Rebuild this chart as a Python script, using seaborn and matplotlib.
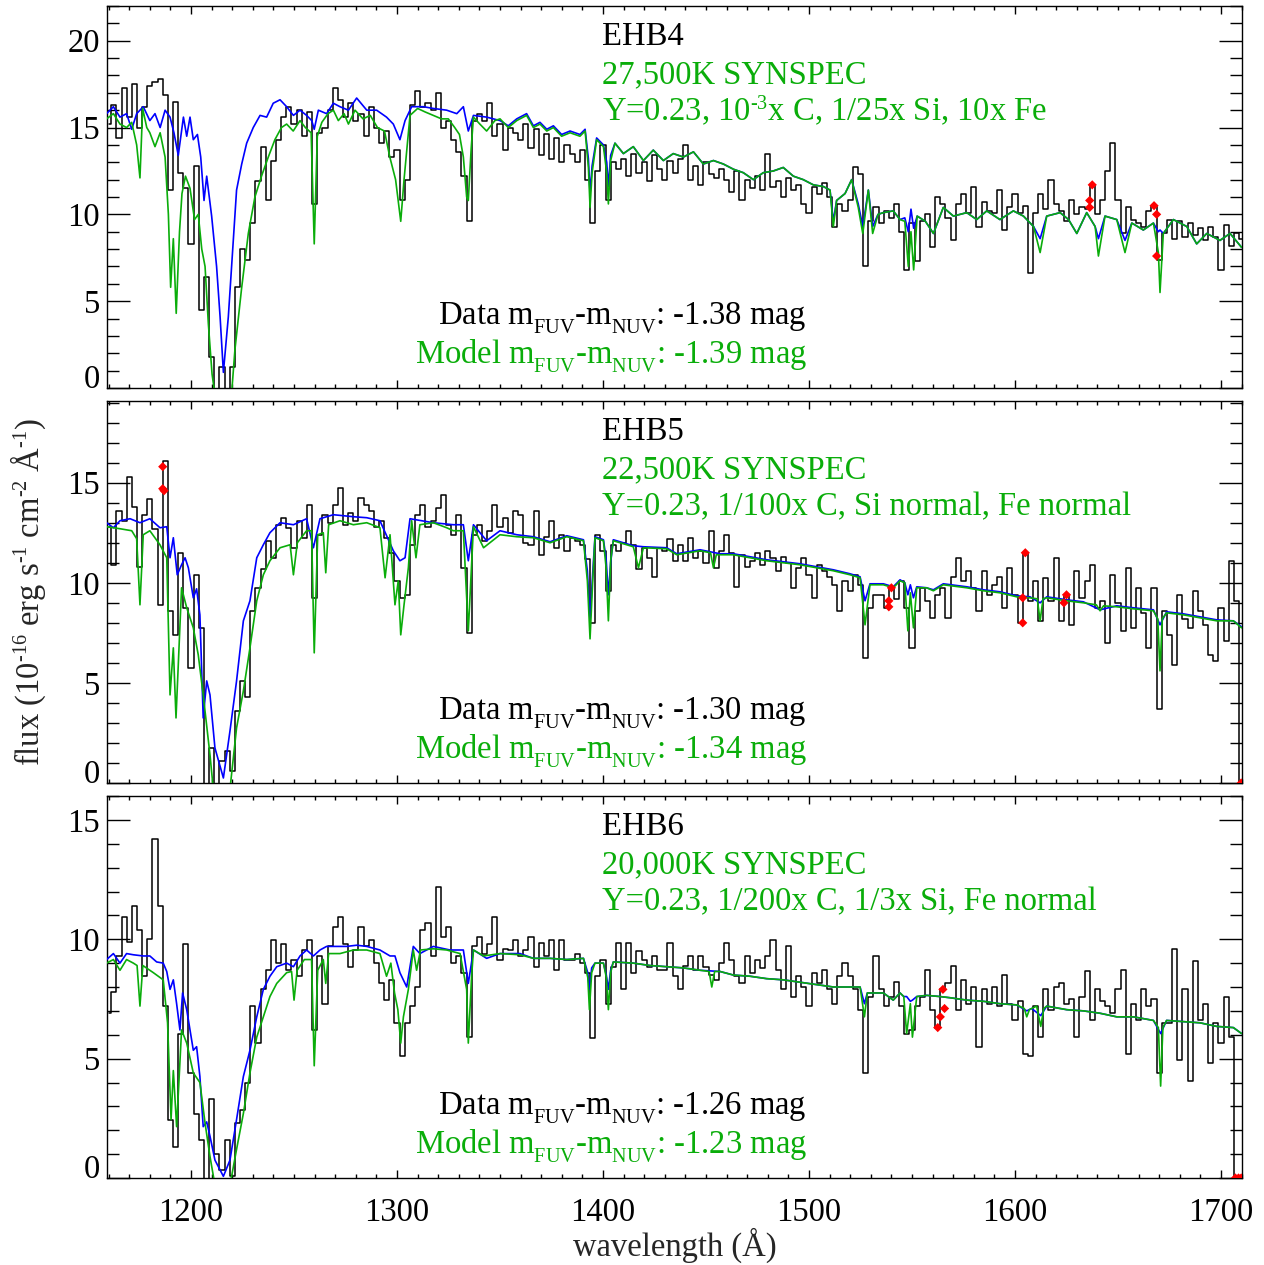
import numpy as np
import pandas as pd
import matplotlib
matplotlib.use("Agg")
import matplotlib.pyplot as plt
from matplotlib.ticker import MultipleLocator
import seaborn as sns

try:  # IDL-like smaller, lower sub/superscripts
    import matplotlib._mathtext as _mt
    _mt.SHRINK_FACTOR = 0.62
    _mt.FontConstantsBase.sub1 = 0.6
except Exception:
    pass

# ------------------------------------------------------------------
# Data
# ------------------------------------------------------------------
data_wave_start = 1160.0   # Angstrom, first data bin
data_wave_step = 2.5       # Angstrom, bin width

# observed fluxes, one row = 10 bins (25 A)
flux_ehb4 = [
    15.2, 16.3, 14.4, 17.3, 15.6, 17.5, 15.0, 16.2, 17.4, 17.6,   # 1160
    17.8, 16.9, 11.4, 16.5, 12.4, 11.5, 8.3, 12.8, 4.5, 6.4,      # 1185
    1.8, -0.3, 1.2, -0.3, 1.2, 5.8, 8.0, 7.4, 9.5, 11.9,          # 1210
    13.9, 10.8, 13.1, 14.3, 15.6, 16.2, 15.2, 16.0, 14.5, 15.9,   # 1235
    10.6, 14.7, 15.0, 16.0, 17.3, 16.6, 15.6, 16.4, 15.4, 15.8,   # 1260
    14.5, 16.2, 15.0, 14.1, 14.8, 13.3, 13.7, 10.8, 12.0, 16.3,   # 1285
    17.1, 16.2, 16.4, 16.0, 17.0, 15.0, 15.4, 14.3, 13.6, 12.2,   # 1310
    9.6, 15.4, 15.8, 15.4, 16.4, 14.5, 15.2, 13.7, 15.0, 14.7,    # 1335
    14.3, 15.2, 13.8, 14.9, 13.4, 14.6, 13.2, 14.4, 13.0, 14.0,   # 1360
    13.5, 13.0, 13.7, 12.0, 9.5, 12.5, 14.0, 10.8, 13.0, 12.6,    # 1385
    13.2, 12.2, 13.5, 12.4, 13.0, 11.9, 13.4, 12.6, 12.0, 13.1,   # 1410
    12.4, 13.2, 14.0, 12.0, 12.8, 11.7, 13.0, 12.3, 12.1, 12.6,   # 1435
    12.0, 11.3, 12.5, 10.8, 12.0, 11.5, 12.2, 11.4, 13.5, 11.6,   # 1460
    11.9, 11.0, 12.1, 11.4, 11.7, 10.6, 10.1, 11.6, 11.2, 11.8,   # 1485
    11.0, 9.3, 10.6, 10.2, 10.8, 12.7, 12.3, 7.0, 9.6, 10.4,      # 1510
    9.5, 10.2, 9.8, 10.6, 9.0, 6.8, 9.5, 7.3, 9.6, 10.0,          # 1535
    8.1, 11.0, 10.6, 9.8, 8.5, 10.6, 11.2, 10.1, 11.6, 9.3,       # 1560
    10.7, 10.2, 10.1, 11.4, 9.1, 10.4, 11.2, 10.1, 10.5, 6.6,     # 1585
    10.1, 11.2, 10.3, 12.0, 10.6, 10.2, 9.6, 10.8, 10.0, 10.4,    # 1610
    10.3, 11.7, 10.0, 10.8, 12.5, 14.1, 10.8, 8.9, 10.4, 9.7,     # 1635
    9.5, 9.3, 10.2, 10.5, 7.4, 8.9, 9.7, 8.6, 9.6, 8.7,           # 1660
    9.5, 8.8, 9.2, 8.5, 9.3, 8.7, 6.8, 9.4, 8.2, 8.9,             # 1685
    8.6,                                                          # 1710
]

flux_ehb5 = [
    12.8, 10.9, 13.6, 13.1, 15.3, 13.8, 10.8, 13.4, 14.2, 12.7,   # 1160
    8.9, 16.1, 8.6, 7.4, 11.5, 8.75, 5.75, 10.4, 7.75, -0.3,      # 1185
    1.75, -0.3, 1.1, 1.6, 0.6, 3.6, 5.1, 4.3, 8.6, 9.75,          # 1210
    10.7, 12.1, 11.25, 12.9, 13.25, 12.75, 11.75, 13.1, 12.25, 13.9,  # 1235
    9.25, 12.4, 13.4, 13.0, 13.9, 14.75, 12.9, 13.5, 13.1, 14.25,     # 1260
    13.9, 13.6, 12.8, 13.1, 12.25, 11.5, 10.1, 9.25, 9.4, 11.9,       # 1285
    13.4, 13.9, 12.8, 13.1, 13.75, 14.4, 12.9, 12.4, 13.4, 10.75,     # 1310
    7.5, 12.4, 12.9, 12.1, 12.6, 13.9, 12.8, 13.25, 12.5, 13.6,       # 1335
    13.4, 12.0, 11.9, 13.6, 11.4, 12.3, 13.1, 11.75, 12.4, 11.6,      # 1360
    12.25, 12.1, 11.9, 11.2, 8.0, 12.4, 11.6, 9.6, 11.9, 11.6,        # 1385
    12.0, 12.6, 11.9, 10.7, 11.75, 11.25, 10.3, 11.75, 11.6, 12.2,    # 1410
    11.1, 11.9, 11.1, 12.25, 11.25, 11.6, 11.0, 12.6, 10.75, 11.6,    # 1435
    12.4, 11.5, 9.8, 11.4, 10.8, 11.1, 11.5, 10.9, 11.6, 11.25,       # 1460
    10.6, 11.3, 11.0, 9.75, 10.75, 11.25, 10.4, 9.25, 10.9, 10.6,     # 1485
    10.3, 9.9, 8.6, 10.1, 9.6, 10.4, 9.9, 6.25, 8.75, 9.4,            # 1510
    9.4, 8.75, 9.75, 9.2, 10.1, 8.75, 6.75, 8.6, 9.75, 9.1,           # 1535
    8.25, 9.4, 9.75, 8.25, 10.3, 11.25, 10.1, 10.6, 9.75, 8.6,        # 1560
    10.6, 9.4, 9.9, 10.3, 8.75, 10.75, 9.4, 8.0, 11.5, 9.1,           # 1585
    10.1, 8.1, 10.25, 9.1, 11.25, 8.1, 9.4, 7.9, 10.6, 9.25,          # 1610
    10.1, 10.9, 8.75, 9.1, 7.0, 10.4, 9.0, 7.6, 10.75, 7.75,          # 1635
    9.75, 8.5, 6.75, 9.75, 3.7, 8.6, 7.4, 5.9, 9.4, 8.2,              # 1660
    7.75, 9.6, 8.6, 7.9, 6.4, 6.1, 8.75, 7.1, 11.1, 9.1,              # 1685
    -0.5,                                                             # 1710
]

flux_ehb6 = [
    6.9, 7.8, 9.3, 10.95, 9.9, 11.4, 10.4, 8.45, 10.0, 14.2,      # 1160
    11.4, 7.2, 2.45, 1.3, 6.05, 9.8, 4.4, 2.7, 1.6, -0.2,         # 1185
    3.3, 1.0, 0.35, 1.6, 0.1, 2.3, 2.85, 4.0, 7.2, 5.65,          # 1210
    7.9, 8.7, 9.95, 9.0, 9.8, 8.7, 9.15, 8.45, 9.55, 9.95,        # 1235
    6.2, 9.3, 7.3, 9.7, 10.5, 10.95, 9.8, 8.85, 9.55, 10.5,       # 1260
    9.7, 9.95, 9.0, 8.15, 7.45, 8.3, 6.5, 5.1, 6.5, 7.2,          # 1285
    8.0, 10.4, 10.7, 9.3, 12.2, 10.1, 10.5, 9.0, 9.3, 8.6,        # 1310
    5.9, 9.7, 10.1, 9.4, 9.8, 10.95, 9.15, 9.6, 9.55, 9.95,       # 1335
    9.3, 9.55, 10.1, 8.85, 9.85, 9.3, 9.95, 8.7, 9.95, 9.15,      # 1360
    9.15, 9.4, 9.0, 8.6, 5.85, 8.45, 9.15, 7.3, 8.85, 9.85,       # 1385
    7.9, 9.85, 8.6, 9.5, 9.15, 8.85, 9.3, 8.7, 8.7, 9.85,         # 1410
    8.45, 7.9, 8.9, 9.3, 8.7, 9.3, 8.85, 8.5, 8.3, 9.0,           # 1435
    9.85, 9.15, 8.45, 8.15, 9.3, 8.6, 9.15, 8.8, 9.3, 9.95,       # 1460
    8.7, 7.9, 9.7, 7.6, 8.45, 8.0, 7.2, 8.6, 8.15, 8.7,           # 1485
    7.9, 7.3, 8.45, 9.0, 8.45, 7.9, 7.05, 4.4, 7.6, 9.3,          # 1510
    7.9, 7.2, 7.6, 8.2, 7.2, 6.05, 6.2, 7.2, 7.6, 8.7,            # 1535
    7.05, 6.3, 7.9, 8.15, 8.9, 7.05, 8.3, 7.3, 8.0, 5.5,          # 1560
    7.9, 7.3, 8.0, 7.2, 8.5, 7.3, 6.6, 7.4, 5.2, 5.1,             # 1585
    7.2, 5.9, 7.9, 7.05, 8.0, 8.15, 7.3, 7.5, 5.9, 7.6,           # 1610
    8.65, 6.6, 7.9, 7.4, 7.2, 6.9, 7.9, 8.7, 5.2, 7.3,            # 1635
    6.6, 7.9, 7.2, 7.5, 4.4, 6.5, 6.5, 9.6, 4.95, 7.9,            # 1660
    4.05, 9.1, 6.6, 7.3, 4.8, 6.5, 5.65, 7.6, 5.9, -0.3,          # 1685
    -0.3,                                                         # 1710
]

# flagged (bad) pixels, red diamonds: (wavelength, flux)
red_ehb4 = [(1636.25, 10.4), (1636.25, 10.8), (1637.5, 11.7),
            (1667.5, 10.5), (1668.75, 10.0), (1668.75, 7.6)]
red_ehb5 = [(1186.25, 15.8), (1186.25, 14.7), (1186.9, 14.6),
            (1540.0, 9.75), (1538.75, 9.1), (1538.75, 8.8),
            (1603.75, 8.0), (1603.75, 9.25), (1605.0, 11.5),
            (1625.0, 9.4), (1623.75, 9.0), (1709.8, 0.0)]
red_ehb6 = [(1562.5, 6.3), (1563.75, 6.75), (1565.0, 7.9), (1565.8, 7.1),
            (1707.0, 0.0), (1708.5, 0.0), (1709.8, 0.0)]

# model spectra: (wavelength, flux)
blue_ehb4 = [
    (1159.0, 15.8), (1162.3, 16.2), (1165.5, 15.6), (1168.7, 15.8), (1171.2, 14.9), (1173.6, 15.8),
    (1176.8, 16.2), (1180.0, 15.4), (1182.5, 15.8), (1185.0, 15.0), (1187.4, 16.0), (1189.8, 15.6),
    (1191.7, 14.7), (1193.8, 13.4), (1196.3, 15.6), (1197.9, 14.5), (1199.5, 15.6), (1201.1, 14.3),
    (1203.1, 14.6), (1204.7, 13.3), (1206.3, 10.8), (1207.6, 12.2), (1210.0, 9.9), (1212.4, 7.0),
    (1214.1, 4.1), (1215.7, 0.9), (1218.1, 4.1), (1220.5, 8.5), (1222.1, 11.4), (1224.6, 12.9),
    (1227.0, 14.1), (1230.2, 15.0), (1233.5, 15.7), (1236.7, 15.6), (1239.9, 16.4), (1243.2, 16.6),
    (1246.4, 16.2), (1249.7, 15.7), (1252.9, 16.0), (1256.1, 15.7), (1258.6, 15.4), (1259.8, 14.9),
    (1261.8, 16.0), (1265.8, 15.8), (1269.1, 16.4), (1272.3, 16.2), (1276.4, 16.0), (1280.4, 16.7),
    (1285.3, 16.0), (1290.1, 16.0), (1294.9, 15.6), (1298.2, 15.2), (1301.4, 14.3), (1303.9, 15.4),
    (1307.1, 16.2), (1312.8, 16.2), (1317.6, 16.1), (1324.1, 16.0), (1329.0, 15.8), (1332.2, 16.2),
    (1334.6, 14.8), (1337.1, 15.7), (1343.5, 15.6), (1350.0, 15.4), (1354.0, 15.1), (1358.1, 15.5),
    (1362.9, 15.8), (1366.2, 15.1), (1369.4, 15.3), (1372.7, 14.9), (1375.9, 15.1), (1379.9, 14.6),
    (1384.0, 14.8), (1388.8, 14.6), (1391.3, 14.9), (1392.9, 13.2), (1393.7, 11.2), (1394.7, 12.8),
    (1396.9, 14.4), (1400.2, 14.0), (1401.8, 13.0), (1402.6, 11.6), (1403.7, 13.4), (1405.8, 14.1),
    (1409.9, 13.5), (1414.7, 13.9), (1419.6, 13.1), (1424.4, 13.7), (1429.3, 13.1), (1434.1, 13.5),
    (1439.0, 13.3), (1443.9, 13.6), (1448.7, 12.9), (1453.6, 13.1), (1458.4, 12.9), (1463.3, 12.6),
    (1468.1, 12.4), (1473.0, 12.0), (1477.8, 12.4), (1482.7, 12.5), (1487.5, 12.7), (1492.4, 12.2),
    (1497.2, 12.0), (1502.1, 11.7), (1507.0, 11.6), (1510.2, 11.4), (1511.8, 9.6), (1513.4, 10.8),
    (1517.5, 11.2), (1520.7, 12.0), (1523.9, 10.6), (1526.1, 9.3), (1528.8, 11.4), (1530.9, 9.3),
    (1533.5, 10.0), (1536.1, 10.1), (1540.9, 10.2), (1544.2, 9.7), (1546.5, 9.8), (1548.2, 9.0),
    (1549.5, 10.3), (1550.8, 9.2), (1552.5, 9.9), (1556.5, 9.6), (1560.4, 8.9), (1565.2, 10.4),
    (1570.1, 9.9), (1576.6, 10.1), (1581.4, 9.7), (1586.3, 10.2), (1592.7, 9.7), (1599.2, 10.2),
    (1604.1, 9.9), (1609.0, 9.3), (1612.2, 8.6), (1615.4, 9.9), (1621.9, 10.1), (1626.0, 9.7),
    (1630.0, 8.9), (1634.8, 10.1), (1638.9, 9.3), (1640.5, 8.6), (1643.7, 9.9), (1649.4, 9.7),
    (1653.4, 8.5), (1656.7, 9.5), (1662.3, 9.1), (1667.2, 9.5), (1669.6, 9.0), (1670.4, 9.1),
    (1672.0, 8.9), (1676.9, 9.7), (1683.4, 9.3), (1688.2, 8.3), (1693.1, 8.9), (1699.5, 8.5),
    (1704.4, 8.9), (1710.0, 8.1),
]
green_ehb4 = [
    (1159.0, 15.5), (1162.3, 15.8), (1165.5, 15.2), (1168.7, 15.0), (1171.2, 15.3), (1173.6, 14.0),
    (1175.2, 12.1), (1176.5, 16.1), (1178.5, 15.0), (1180.0, 14.7), (1182.5, 13.9), (1185.0, 14.7),
    (1187.4, 13.3), (1189.0, 10.0), (1190.1, 5.8), (1191.4, 8.6), (1192.8, 4.3), (1194.4, 9.0),
    (1195.6, 11.2), (1197.3, 12.2), (1199.5, 11.5), (1201.7, 9.7), (1203.5, 10.0), (1205.2, 8.0),
    (1206.8, 7.0), (1208.4, 3.7), (1210.2, 0.8), (1211.5, -0.3), (1216.0, -0.5), (1219.7, -0.3),
    (1221.3, 2.2), (1224.5, 5.7), (1227.8, 8.9), (1231.0, 11.0), (1234.2, 12.2), (1237.5, 13.3),
    (1240.7, 14.3), (1243.9, 15.0), (1246.4, 15.2), (1249.6, 14.8), (1252.9, 15.4), (1255.5, 15.0),
    (1258.3, 14.7), (1259.8, 8.3), (1261.3, 14.5), (1263.5, 15.3), (1266.5, 15.8), (1269.1, 16.0),
    (1271.5, 15.4), (1274.3, 15.8), (1276.4, 15.2), (1279.6, 16.0), (1283.5, 15.5), (1287.0, 15.7),
    (1290.5, 15.0), (1293.9, 14.8), (1296.5, 13.3), (1299.3, 12.0), (1301.8, 9.6), (1303.4, 12.0),
    (1306.3, 15.7), (1310.0, 16.1), (1313.6, 15.9), (1317.6, 15.7), (1321.6, 15.5), (1324.9, 15.5),
    (1328.0, 15.0), (1330.3, 14.6), (1332.2, 13.3), (1333.8, 11.0), (1334.6, 10.8), (1336.0, 13.8),
    (1337.1, 15.6), (1340.2, 15.2), (1343.5, 14.8), (1347.5, 15.4), (1350.0, 15.5), (1354.0, 15.0),
    (1358.1, 15.4), (1362.9, 15.7), (1366.2, 15.0), (1369.4, 15.2), (1372.7, 14.8), (1375.9, 15.0),
    (1379.9, 14.5), (1384.0, 14.7), (1388.8, 14.5), (1391.3, 14.8), (1392.9, 12.7), (1393.7, 10.4),
    (1394.7, 12.4), (1396.9, 14.3), (1400.2, 13.9), (1401.8, 12.4), (1402.6, 10.6), (1403.7, 13.1),
    (1405.8, 14.1), (1409.9, 13.5), (1414.7, 13.9), (1419.6, 13.1), (1424.4, 13.7), (1429.3, 13.1),
    (1434.1, 13.5), (1439.0, 13.3), (1443.9, 13.6), (1448.7, 12.9), (1453.6, 13.1), (1458.4, 12.9),
    (1463.3, 12.6), (1468.1, 12.4), (1473.0, 12.0), (1477.8, 12.4), (1482.7, 12.5), (1487.5, 12.7),
    (1492.4, 12.2), (1497.2, 12.0), (1502.1, 11.7), (1507.0, 11.6), (1510.2, 11.4), (1511.8, 9.3),
    (1513.4, 10.8), (1517.5, 11.2), (1520.7, 12.0), (1523.9, 10.4), (1526.1, 8.9), (1528.8, 11.4),
    (1530.9, 8.9), (1533.5, 10.0), (1536.1, 10.1), (1540.9, 10.2), (1544.2, 9.7), (1546.5, 9.6),
    (1548.2, 7.0), (1549.5, 9.0), (1550.8, 6.8), (1552.5, 9.9), (1556.5, 9.6), (1560.4, 8.9),
    (1565.2, 10.4), (1570.1, 9.9), (1576.6, 10.1), (1581.4, 9.7), (1586.3, 10.2), (1592.7, 9.7),
    (1599.2, 10.2), (1604.1, 9.9), (1609.0, 9.3), (1612.2, 7.8), (1615.4, 9.9), (1621.9, 10.1),
    (1626.0, 9.7), (1630.0, 8.9), (1634.8, 10.1), (1638.9, 9.3), (1640.5, 7.6), (1643.7, 9.9),
    (1649.4, 9.7), (1653.4, 7.8), (1656.7, 9.5), (1662.3, 9.1), (1667.2, 9.5), (1669.6, 7.8),
    (1670.4, 5.5), (1672.0, 8.9), (1676.9, 9.7), (1683.4, 9.3), (1688.2, 8.3), (1693.1, 8.9),
    (1699.5, 8.5), (1704.4, 8.9), (1710.0, 8.1),
]

blue_ehb5 = [
    (1159.0, 13.0), (1162.3, 12.75), (1165.5, 13.1), (1170.4, 13.2), (1175.2, 13.0), (1180.0, 13.2),
    (1184.9, 12.75), (1188.2, 12.8), (1189.8, 11.25), (1191.4, 12.25), (1193.3, 10.4), (1195.4, 10.9),
    (1197.1, 11.25), (1198.7, 10.75), (1201.1, 9.25), (1202.7, 9.7), (1204.3, 8.4), (1205.9, 3.25),
    (1207.6, 5.1), (1209.2, 4.4), (1211.6, 1.75), (1215.7, 0.25), (1218.9, 2.6), (1222.1, 5.1),
    (1225.4, 8.1), (1228.6, 9.1), (1231.9, 11.25), (1235.1, 11.9), (1238.3, 12.5), (1243.2, 13.0),
    (1249.7, 12.9), (1256.1, 13.2), (1259.4, 11.75), (1262.6, 13.2), (1269.1, 13.4), (1278.8, 13.3),
    (1285.3, 13.25), (1291.7, 13.1), (1298.2, 11.6), (1301.4, 11.1), (1303.9, 11.25), (1306.3, 13.2),
    (1317.6, 13.0), (1327.3, 12.9), (1332.2, 12.9), (1334.6, 11.1), (1337.1, 12.9), (1343.5, 12.1),
    (1350.0, 12.6), (1358.1, 12.4), (1366.2, 12.3), (1374.3, 12.05), (1382.4, 12.35), (1390.5, 12.15),
    (1392.4, 10.6), (1393.7, 8.1), (1395.0, 10.5), (1396.1, 12.3), (1400.2, 12.15), (1401.5, 11.2),
    (1402.6, 9.4), (1403.7, 11.0), (1405.0, 12.15), (1414.7, 11.85), (1419.6, 11.8), (1430.9, 11.75),
    (1435.8, 11.45), (1447.1, 11.65), (1456.8, 11.45), (1463.3, 11.45), (1471.4, 11.3), (1479.4, 11.15),
    (1487.5, 11.05), (1495.6, 10.95), (1503.7, 10.8), (1511.8, 10.65), (1519.9, 10.45), (1524.8, 10.3),
    (1527.2, 9.1), (1529.6, 9.95), (1536.1, 9.95), (1540.9, 9.8), (1544.2, 10.15), (1546.5, 10.0),
    (1548.0, 9.4), (1549.2, 9.9), (1550.7, 9.25), (1552.3, 9.8), (1557.1, 9.75), (1560.4, 9.65),
    (1565.2, 9.95), (1576.6, 9.8), (1584.7, 9.65), (1592.7, 9.55), (1600.8, 9.35), (1607.3, 9.3),
    (1612.2, 9.0), (1615.4, 9.3), (1625.1, 9.15), (1633.2, 9.05), (1641.3, 8.65), (1649.4, 8.85),
    (1657.5, 8.75), (1667.2, 8.65), (1670.4, 7.9), (1673.6, 8.55), (1681.7, 8.45), (1689.8, 8.3),
    (1697.9, 8.15), (1706.0, 8.1), (1710.0, 7.8),
]
green_ehb5 = [
    (1159.0, 12.8), (1165.5, 12.7), (1171.2, 12.6), (1173.6, 12.2), (1175.2, 8.9), (1176.8, 12.4),
    (1180.0, 12.6), (1184.9, 11.9), (1188.2, 11.25), (1189.8, 4.4), (1191.4, 6.75), (1192.7, 3.25),
    (1195.4, 9.75), (1197.9, 8.75), (1201.1, 7.75), (1203.5, 6.4), (1205.9, 4.4), (1209.2, 1.4),
    (1210.8, -0.3), (1218.9, -0.3), (1222.1, 2.75), (1225.4, 4.6), (1228.6, 6.75), (1231.9, 9.1),
    (1235.1, 10.4), (1238.3, 11.1), (1243.2, 11.75), (1248.1, 11.9), (1249.7, 10.4), (1251.6, 12.0),
    (1256.1, 12.6), (1258.5, 12.6), (1259.8, 6.5), (1261.5, 12.4), (1264.2, 12.5), (1265.4, 10.5),
    (1266.8, 12.9), (1272.3, 13.1), (1278.8, 12.9), (1285.3, 13.0), (1291.7, 12.75), (1294.2, 10.25),
    (1296.6, 12.4), (1299.0, 8.9), (1300.6, 10.1), (1301.8, 7.4), (1303.4, 8.9), (1305.5, 10.75),
    (1307.1, 13.1), (1309.2, 11.25), (1311.1, 12.9), (1317.6, 13.0), (1324.1, 12.75), (1327.3, 12.6),
    (1332.2, 12.6), (1334.6, 7.6), (1337.1, 12.8), (1342.0, 11.75), (1350.0, 12.4), (1358.1, 12.3),
    (1366.2, 12.25), (1374.3, 12.0), (1382.4, 12.3), (1390.5, 12.1), (1392.4, 10.1), (1393.7, 7.2),
    (1395.0, 10.1), (1396.1, 12.25), (1400.2, 12.1), (1401.5, 10.75), (1402.6, 8.1), (1403.7, 11.1),
    (1405.0, 12.1), (1414.7, 11.8), (1417.2, 10.75), (1419.6, 11.75), (1430.9, 11.7), (1435.8, 11.4),
    (1447.1, 11.6), (1452.2, 11.5), (1453.6, 10.75), (1455.0, 11.4), (1456.8, 11.4), (1463.3, 11.4),
    (1471.4, 11.25), (1479.4, 11.1), (1487.5, 11.0), (1495.6, 10.9), (1503.7, 10.75), (1511.8, 10.6),
    (1519.9, 10.4), (1524.8, 10.25), (1527.2, 7.9), (1529.6, 9.9), (1536.1, 9.9), (1540.9, 9.75),
    (1544.2, 10.1), (1546.5, 10.0), (1548.0, 7.6), (1549.2, 9.5), (1550.7, 7.75), (1552.3, 9.75),
    (1557.1, 9.75), (1560.4, 9.6), (1565.2, 9.9), (1576.6, 9.75), (1584.7, 9.6), (1592.7, 9.5),
    (1600.8, 9.3), (1607.3, 9.25), (1610.8, 9.2), (1612.2, 8.1), (1613.6, 9.2), (1615.4, 9.25),
    (1625.1, 9.1), (1633.2, 9.0), (1639.5, 8.9), (1641.3, 8.6), (1643.0, 8.85), (1649.4, 8.8),
    (1657.5, 8.7), (1667.2, 8.6), (1669.3, 8.2), (1670.4, 5.6), (1671.5, 8.2), (1673.6, 8.5),
    (1681.7, 8.4), (1689.8, 8.25), (1697.9, 8.1), (1706.0, 8.1), (1710.0, 7.75),
]

blue_ehb6 = [
    (1159.0, 9.15), (1162.3, 9.4), (1165.5, 9.0), (1168.7, 9.4), (1172.0, 9.35), (1176.8, 9.3),
    (1180.0, 9.3), (1183.3, 9.05), (1186.5, 9.0), (1188.2, 8.65), (1189.8, 7.9), (1191.4, 8.3),
    (1193.0, 7.3), (1194.6, 6.2), (1195.9, 7.75), (1197.9, 7.05), (1199.5, 6.2), (1201.1, 5.35),
    (1202.7, 5.5), (1204.3, 4.25), (1205.9, 2.15), (1207.6, 2.35), (1209.2, 1.75), (1211.6, 0.75),
    (1215.7, 0.07), (1218.9, 0.75), (1222.1, 2.45), (1225.4, 4.25), (1228.6, 5.35), (1231.9, 6.75),
    (1235.1, 7.9), (1238.3, 8.45), (1241.6, 8.85), (1246.4, 9.0), (1249.7, 8.85), (1252.9, 9.3),
    (1256.1, 9.55), (1259.4, 9.3), (1262.6, 9.55), (1265.8, 9.7), (1275.5, 9.7), (1280.4, 9.75),
    (1285.3, 9.7), (1291.7, 9.55), (1296.6, 9.3), (1299.0, 9.3), (1301.4, 8.6), (1304.7, 8.0),
    (1307.9, 9.7), (1311.1, 9.4), (1317.6, 9.7), (1325.7, 9.55), (1332.2, 9.55), (1334.6, 8.15),
    (1337.1, 9.55), (1343.5, 9.2), (1350.0, 9.4), (1359.7, 9.4), (1366.2, 9.2), (1374.3, 9.2),
    (1382.4, 9.15), (1390.5, 9.2), (1392.6, 8.6), (1393.4, 7.9), (1394.5, 8.8), (1396.1, 9.0),
    (1400.2, 9.0), (1401.6, 8.5), (1402.6, 7.9), (1403.7, 8.7), (1405.0, 9.05), (1414.7, 9.0),
    (1422.8, 8.9), (1430.9, 8.85), (1439.0, 8.8), (1447.1, 8.7), (1456.8, 8.65), (1463.3, 8.5),
    (1471.4, 8.45), (1479.4, 8.35), (1487.5, 8.3), (1495.6, 8.2), (1503.7, 8.1), (1511.8, 8.0),
    (1519.9, 8.0), (1524.8, 8.0), (1526.9, 7.3), (1528.3, 7.75), (1536.1, 7.75), (1540.9, 7.45),
    (1544.2, 7.75), (1546.0, 7.6), (1547.4, 7.6), (1549.2, 7.4), (1550.2, 7.45), (1552.3, 7.6),
    (1557.1, 7.65), (1563.6, 7.6), (1568.5, 7.55), (1576.6, 7.45), (1584.7, 7.4), (1592.7, 7.3),
    (1600.8, 7.25), (1605.7, 7.0), (1608.1, 7.1), (1612.5, 6.8), (1615.4, 7.2), (1625.1, 7.05),
    (1633.2, 7.0), (1641.3, 6.9), (1649.4, 6.75), (1657.5, 6.75), (1667.2, 6.6), (1670.7, 6.05),
    (1673.6, 6.6), (1681.7, 6.55), (1689.8, 6.5), (1697.9, 6.35), (1706.0, 6.3), (1710.0, 6.05),
]
green_ehb6 = [
    (1159.0, 9.0), (1162.3, 9.15), (1165.5, 8.7), (1168.7, 9.15), (1172.0, 9.0), (1173.8, 8.9),
    (1175.2, 7.2), (1176.6, 8.9), (1181.7, 8.6), (1186.5, 8.3), (1188.6, 6.5), (1190.3, 2.45),
    (1191.4, 4.5), (1193.0, 2.15), (1195.4, 6.2), (1197.9, 5.65), (1201.1, 4.4), (1204.3, 4.0),
    (1206.8, 2.3), (1209.2, 0.9), (1211.6, -0.3), (1218.9, -0.3), (1222.1, 1.2), (1225.4, 2.7),
    (1228.6, 4.4), (1231.9, 5.9), (1235.1, 6.75), (1238.3, 7.6), (1241.6, 8.15), (1246.4, 8.6),
    (1248.8, 8.65), (1250.0, 7.45), (1251.5, 8.7), (1255.0, 9.15), (1258.5, 9.15), (1259.8, 4.7),
    (1261.5, 8.7), (1264.2, 9.15), (1265.4, 8.15), (1266.8, 9.4), (1272.3, 9.4), (1278.8, 9.55),
    (1285.3, 9.55), (1291.7, 9.4), (1294.9, 8.45), (1297.0, 9.0), (1298.8, 7.75), (1300.4, 7.05),
    (1301.8, 5.65), (1303.1, 6.75), (1305.5, 7.9), (1307.9, 9.55), (1309.5, 8.7), (1311.4, 9.55),
    (1317.6, 9.6), (1324.1, 9.55), (1330.6, 9.4), (1333.8, 7.9), (1334.6, 5.65), (1336.2, 8.45),
    (1337.1, 9.55), (1342.0, 9.3), (1350.0, 9.4), (1359.7, 9.35), (1366.2, 9.2), (1374.3, 9.2),
    (1382.4, 9.15), (1390.5, 9.2), (1392.6, 8.4), (1393.4, 7.05), (1394.5, 8.6), (1396.1, 9.0),
    (1400.2, 9.0), (1401.6, 8.4), (1402.6, 7.05), (1403.7, 8.6), (1405.0, 9.05), (1414.7, 9.0),
    (1422.8, 8.9), (1430.9, 8.85), (1439.0, 8.8), (1447.1, 8.7), (1451.5, 8.65), (1452.8, 8.0),
    (1454.2, 8.65), (1456.8, 8.65), (1463.3, 8.5), (1471.4, 8.45), (1479.4, 8.35), (1487.5, 8.3),
    (1495.6, 8.2), (1503.7, 8.1), (1511.8, 8.0), (1519.9, 8.0), (1524.8, 8.0), (1526.9, 6.75),
    (1528.3, 7.75), (1536.1, 7.75), (1540.9, 7.45), (1544.2, 7.75), (1546.0, 7.6), (1547.4, 6.05),
    (1549.2, 7.3), (1550.2, 5.9), (1552.3, 7.6), (1557.1, 7.65), (1563.6, 7.6), (1568.5, 7.55),
    (1576.6, 7.45), (1584.7, 7.4), (1592.7, 7.3), (1600.8, 7.25), (1604.5, 7.1), (1605.7, 6.75),
    (1607.0, 7.05), (1610.5, 7.2), (1612.5, 6.35), (1614.0, 7.1), (1615.4, 7.2), (1625.1, 7.05),
    (1633.2, 7.0), (1641.3, 6.9), (1649.4, 6.75), (1657.5, 6.75), (1667.2, 6.6), (1669.6, 6.3),
    (1670.7, 3.85), (1671.8, 6.3), (1673.6, 6.6), (1681.7, 6.55), (1689.8, 6.5), (1697.9, 6.35),
    (1706.0, 6.3), (1710.0, 6.05),
]

# text annotations
star_names = ["EHB4", "EHB5", "EHB6"]
model_temps = ["27,500K SYNSPEC", "22,500K SYNSPEC", "20,000K SYNSPEC"]
model_abund = [r"Y=0.23, 10$^{\text{-3}}$x C, 1/25x Si, 10x Fe",
               "Y=0.23, 1/100x C, Si normal, Fe normal",
               "Y=0.23, 1/200x C, 1/3x Si, Fe normal"]
data_colors = ["-1.38", "-1.30", "-1.26"]
model_colors = ["-1.39", "-1.34", "-1.23"]
y_max = [22.0, 19.08, 16.0]
y_ticks = [[0, 5, 10, 15, 20], [0, 5, 10, 15], [0, 5, 10, 15]]
x_range = (1159.2, 1710.2)

# ------------------------------------------------------------------
# Style
# ------------------------------------------------------------------
sns.set_style("ticks")
plt.rcParams["font.family"] = ["Liberation Serif", "DejaVu Serif"]
plt.rcParams["mathtext.fontset"] = "custom"
plt.rcParams["mathtext.rm"] = "Liberation Serif"
plt.rcParams["mathtext.it"] = "Liberation Serif:italic"
plt.rcParams["mathtext.bf"] = "Liberation Serif:bold"
plt.rcParams["axes.linewidth"] = 1.0

FS = 23.5
GREEN = "#0aad0a"
BLUE = "#0000ff"
BLACK = "#000000"
RED = "#ff0000"

fig = plt.figure(figsize=(12.64, 12.65), dpi=100)
left, width, height = 107 / 1264, 1135 / 1264, 382 / 1265
bottoms = [1 - 388 / 1265, 1 - 783 / 1265, 1 - 1178 / 1265]

fluxes = [flux_ehb4, flux_ehb5, flux_ehb6]
blues = [blue_ehb4, blue_ehb5, blue_ehb6]
greens = [green_ehb4, green_ehb5, green_ehb6]
reds = [red_ehb4, red_ehb5, red_ehb6]

axes = []
for i in range(3):
    ax = fig.add_axes([left, bottoms[i], width, height])
    axes.append(ax)

    flux = np.asarray(fluxes[i], dtype=float)
    wave = data_wave_start + data_wave_step * np.arange(len(flux))
    df_data = pd.DataFrame({"wave": wave, "flux": flux})
    bw, bf = zip(*blues[i])
    gw, gf = zip(*greens[i])
    rw, rf = zip(*reds[i])
    df_blue = pd.DataFrame({"wave": bw, "flux": bf})
    df_green = pd.DataFrame({"wave": gw, "flux": gf})
    df_red = pd.DataFrame({"wave": rw, "flux": rf})

    sns.lineplot(data=df_data, x="wave", y="flux", ax=ax, color=BLACK, lw=1.1,
                 drawstyle="steps-mid", estimator=None, sort=False, zorder=2)
    sns.lineplot(data=df_blue, x="wave", y="flux", ax=ax, color=BLUE, lw=1.2,
                 estimator=None, sort=False, zorder=3)
    sns.lineplot(data=df_green, x="wave", y="flux", ax=ax, color=GREEN, lw=1.2,
                 estimator=None, sort=False, zorder=4)
    sns.scatterplot(data=df_red, x="wave", y="flux", ax=ax, color=RED, marker="D",
                    s=22, edgecolor="none", zorder=5, clip_on=True)

    ax.set_xlim(*x_range)
    ax.set_ylim(0, y_max[i])
    ax.xaxis.set_major_locator(MultipleLocator(100))
    ax.xaxis.set_minor_locator(MultipleLocator(10))
    ax.set_yticks(y_ticks[i])
    ax.yaxis.set_minor_locator(MultipleLocator(1))
    ax.tick_params(axis="both", which="both", direction="in", top=True, right=True,
                   width=1.0, colors="black", labelsize=FS)
    ax.tick_params(axis="x", which="major", length=5.5, pad=14)
    ax.tick_params(axis="x", which="minor", length=2.8)
    ax.tick_params(axis="y", which="major", length=16.5, pad=5)
    ax.tick_params(axis="y", which="minor", length=8.3)
    for sp in ax.spines.values():
        sp.set_visible(True)
        sp.set_color("black")
        sp.set_linewidth(1.0)
    # bottom y label sits on its baseline
    ax.yaxis.get_major_ticks()[0].label1.set_verticalalignment("baseline")

    ax.set_xlabel("")
    ax.set_ylabel("")
    if i < 2:
        ax.set_xticklabels([])

    tx = 0.4359
    ax.text(tx, 0.898, star_names[i], transform=ax.transAxes, fontsize=FS,
            color="black", ha="left", va="baseline")
    ax.text(tx, 0.798, model_temps[i], transform=ax.transAxes, fontsize=FS,
            color=GREEN, ha="left", va="baseline")
    ax.text(tx, 0.702, model_abund[i], transform=ax.transAxes, fontsize=FS,
            color=GREEN, ha="left", va="baseline")
    rx = 0.6165
    ax.text(rx, 0.170, r"Data m$_{\mathrm{FUV}}$-m$_{\mathrm{NUV}}$: " + data_colors[i] + " mag",
            transform=ax.transAxes, fontsize=FS, color="black", ha="right", va="baseline")
    ax.text(rx, 0.068, r"Model m$_{\mathrm{FUV}}$-m$_{\mathrm{NUV}}$: " + model_colors[i] + " mag",
            transform=ax.transAxes, fontsize=FS, color=GREEN, ha="right", va="baseline")

axes[2].set_xlabel("wavelength (Å)", fontsize=FS, labelpad=0)
axes[1].set_ylabel(r"flux (10$^{\text{-16}}$ erg s$^{\text{-1}}$ cm$^{\text{-2}}$ Å$^{\text{-1}}$)",
                   fontsize=FS)
axes[1].yaxis.set_label_coords(-0.052, 0.5)

fig.savefig("out.png", dpi=100, facecolor="white")
